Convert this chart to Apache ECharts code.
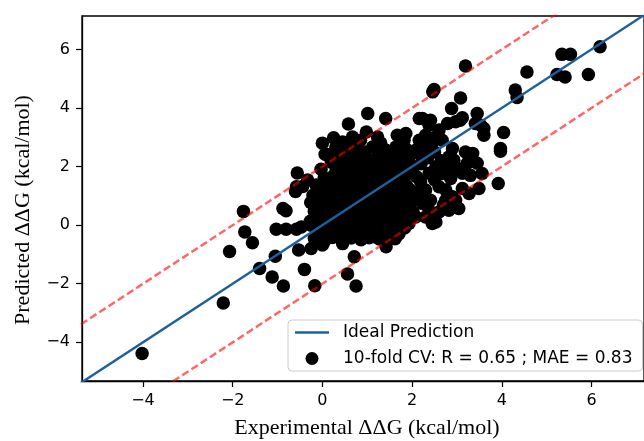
<!DOCTYPE html>
<html>
<head>
<meta charset="utf-8">
<script src="https://cdn.jsdelivr.net/npm/echarts@6/dist/echarts.min.js"></script>
<style>
  html, body { margin: 0; padding: 0; background: #fff; }
  #chart { width: 644px; height: 441px; }
</style>
</head>
<body>
<div id="chart"></div>
<script>
// axis ticks and labels
const tickValues = [-4, -2, 0, 2, 4, 6];
const xLabel = 'Experimental ΔΔG (kcal/mol)';
const yLabel = 'Predicted ΔΔG (kcal/mol)';
const idealName = 'Ideal Prediction';
const cvName = '10-fold CV: R = 0.65 ; MAE = 0.83';

// reference lines: y = x and y = x +/- offset
const lineEnds = [-6, 8];
const bandOffset = 2;

// points, [experimental, predicted]
const outlierPoints = [
  [-4.02, -4.38], [-2.21, -2.66], [-2.07, -0.90], [-1.76, 0.47], [-1.73, -0.23],
  [-1.56, -0.60], [-1.40, -1.48], [-1.12, -1.77], [-1.05, -1.06], [-0.87, -2.08],
  [-1.03, -0.14], [-0.88, 0.57], [-0.81, 0.49], [-0.81, -0.14], [-0.60, 1.15],
  [-0.56, 1.78], [-0.44, 1.32], [-0.58, -0.14], [-0.47, -0.06], [-0.25, 0.0],
  [-0.07, -0.16], [-0.53, -0.85], [-0.40, -1.51], [-0.25, -0.80], [-0.17, -2.07],
  [0.00, -0.68], [0.71, -1.08], [0.56, -1.67], [0.75, -2.08], [0.45, -0.63],
  [1.42, -0.74], [1.67, -0.34], [0.90, -0.40], [1.19, -0.40], [-0.18, -0.45],
  [0.04, -0.57]
];

const upperPoints = [
  [0.00, 2.80], [0.25, 2.98], [0.06, 2.42], [0.45, 2.84], [0.58, 3.45],
  [0.67, 3.01], [1.01, 3.81], [0.98, 3.18], [1.23, 3.01], [1.41, 3.64],
  [0.10, 2.41], [0.38, 2.50], [-0.03, 1.91], [0.30, 1.82], [-0.33, 1.54],
  [-0.58, 1.31], [1.67, 3.07], [1.82, 2.90], [2.16, 3.64], [2.38, 3.47],
  [0.78, 2.56], [1.12, 2.67], [1.42, 2.56], [1.64, 2.67], [2.08, 2.56],
  [1.93, 2.16], [0.12, 2.39], [0.20, 2.15], [-0.14, 0.97], [-0.03, 1.19],
  [0.19, 1.42], [1.86, 2.60], [2.20, 2.10], [0.55, 2.60], [0.95, 2.50],
  [0.30, 2.65], [0.70, 2.75], [1.30, 2.80], [1.50, 2.30], [1.75, 2.40],
  [0.85, 2.90], [0.45, 2.25], [1.25, 2.45]
];

const rightPoints = [
  [3.19, 5.43], [2.49, 4.63], [2.46, 4.55], [3.08, 4.34], [2.88, 3.98],
  [3.12, 3.67], [3.07, 3.58], [3.45, 3.81], [2.79, 3.47], [2.23, 3.64],
  [2.38, 3.41], [3.53, 3.41], [3.60, 3.07], [4.04, 3.16], [4.30, 4.61],
  [4.34, 4.36], [4.56, 5.23], [5.23, 5.14], [5.41, 5.06], [5.34, 5.83],
  [5.53, 5.83], [5.93, 5.14], [6.19, 6.09], [2.53, 3.01], [3.97, 2.62],
  [3.97, 2.52], [3.92, 1.42], [3.49, 1.25], [3.56, 1.76], [3.45, 2.11],
  [3.27, 1.08], [3.12, 1.25], [3.04, 0.57], [2.82, 0.51], [2.60, 0.45],
  [2.49, 0.17], [2.45, 0.06], [3.19, 2.50], [2.90, 2.62], [2.93, 2.22],
  [3.23, 2.11], [2.67, 2.90], [2.45, 2.84], [2.30, 3.07], [2.53, 1.99],
  [2.67, 1.76], [2.60, 1.31], [2.41, 0.85], [2.19, 1.48], [2.23, 0.74],
  [2.86, 1.59], [2.97, 0.85], [2.01, 0.40], [1.93, 2.33], [1.86, 3.13],
  [2.41, 3.58], [2.53, 0.11], [2.38, 0.51], [2.75, 0.85], [2.90, 0.63],
  [2.08, 0.28], [2.08, 0.97], [1.93, 0.06], [1.71, -0.28], [2.16, 2.90],
  [2.00, 1.88], [2.38, 1.77], [3.12, 1.77], [3.30, 1.70], [2.82, 2.33],
  [2.97, 3.53], [3.41, 3.47], [2.16, 2.45], [2.16, 1.14], [2.75, 1.20],
  [2.30, 0.28], [1.86, 0.17], [2.90, 0.97], [1.93, 1.08],
  [2.30, 1.20], [2.50, 1.55], [2.65, 2.20], [2.35, 2.30], [2.80, 1.90],
  [3.00, 1.95], [2.50, 2.50], [2.25, 0.95], [2.70, 0.70], [3.35, 2.45],
  [3.60, 3.30], [2.60, 3.25], [2.10, 1.65], [2.30, 2.70]
];

const corePoints = [
  [0.22, -0.42], [0.43, -0.48], [0.64, -0.44], [0.86, -0.50], [1.04, -0.43], [1.27, -0.47], [1.46, -0.41], [1.62, -0.46],
  [-0.14, -0.12], [0.06, -0.18], [0.27, -0.14], [0.44, -0.20], [0.66, -0.13], [0.84, -0.17], [1.06, -0.11], [1.24, -0.19],
  [1.47, -0.14], [1.66, -0.16], [1.83, -0.10],
  [-0.27, 0.13], [-0.06, 0.18], [0.16, 0.12], [0.34, 0.17], [0.56, 0.11], [0.74, 0.19], [0.96, 0.14], [1.16, 0.10],
  [1.34, 0.18], [1.56, 0.13], [1.74, 0.16], [1.93, 0.20],
  [-0.18, 0.47], [0.03, 0.42], [0.21, 0.49], [0.42, 0.43], [0.61, 0.46], [0.83, 0.41], [1.02, 0.48], [1.22, 0.44],
  [1.43, 0.47], [1.61, 0.42], [1.82, 0.49], [2.02, 0.44],
  [-0.26, 0.77], [-0.04, 0.72], [0.14, 0.78], [0.36, 0.73], [0.54, 0.76], [0.76, 0.71], [0.94, 0.79], [1.14, 0.74],
  [1.36, 0.77], [1.54, 0.72], [1.76, 0.78], [1.96, 0.73],
  [-0.21, 1.02], [0.01, 1.08], [0.19, 1.03], [0.41, 1.07], [0.62, 1.01], [0.81, 1.06], [1.03, 1.04], [1.21, 1.09],
  [1.42, 1.02], [1.63, 1.07], [1.81, 1.03], [2.01, 1.08],
  [-0.14, 1.37], [0.07, 1.32], [0.26, 1.38], [0.46, 1.33], [0.67, 1.36], [0.86, 1.31], [1.07, 1.39], [1.26, 1.34],
  [1.47, 1.37], [1.66, 1.32], [1.87, 1.36],
  [0.04, 1.62], [0.24, 1.67], [0.44, 1.63], [0.63, 1.68], [0.84, 1.61], [1.04, 1.66], [1.23, 1.64], [1.44, 1.69],
  [1.64, 1.62], [1.84, 1.67],
  [0.31, 1.97], [0.52, 1.92], [0.71, 1.98], [0.92, 1.93], [1.12, 1.96], [1.33, 1.91], [1.52, 1.97], [1.71, 1.94],
  [0.57, 2.27], [0.78, 2.22], [0.98, 2.28], [1.18, 2.23], [1.39, 2.26], [1.58, 2.21]
];

// more points packed between the core rows
const coreFillPoints = [
  [0.33, -0.31], [0.74, -0.29], [1.15, -0.33], [1.55, -0.28], [0.53, -0.32], [0.95, -0.27], [1.36, -0.31],
  [-0.05, 0.02], [0.36, -0.01], [0.75, 0.03], [1.15, -0.02], [1.55, 0.01], [0.15, -0.02], [0.55, 0.02], [0.95, -0.01], [1.35, 0.03], [1.75, 0.0],
  [-0.1, 0.31], [0.31, 0.28], [0.72, 0.33], [1.12, 0.29], [1.52, 0.32], [1.9, 0.3], [0.1, 0.32], [0.52, 0.29], [0.93, 0.31], [1.33, 0.28], [1.72, 0.31],
  [-0.12, 0.61], [0.29, 0.59], [0.7, 0.62], [1.11, 0.58], [1.51, 0.63], [1.88, 0.6], [0.09, 0.6], [0.5, 0.61], [0.9, 0.58], [1.31, 0.62], [1.71, 0.59],
  [-0.1, 0.9], [0.3, 0.92], [0.71, 0.89], [1.12, 0.91], [1.52, 0.88], [1.92, 0.92], [0.1, 0.89], [0.51, 0.92], [0.91, 0.9], [1.32, 0.88], [1.72, 0.91],
  [-0.03, 1.21], [0.37, 1.19], [0.77, 1.22], [1.17, 1.2], [1.57, 1.18], [1.95, 1.22], [0.17, 1.2], [0.57, 1.18], [0.97, 1.21], [1.37, 1.19], [1.77, 1.21],
  [0.14, 1.5], [0.54, 1.52], [0.94, 1.49], [1.34, 1.51], [1.74, 1.48], [0.34, 1.49], [0.74, 1.51], [1.14, 1.5], [1.54, 1.52],
  [0.41, 1.8], [0.81, 1.78], [1.21, 1.81], [1.61, 1.79], [0.61, 1.81], [1.01, 1.79], [1.41, 1.8], [1.78, 1.82],
  [0.67, 2.1], [1.07, 2.11], [1.47, 2.09], [0.87, 2.09], [1.27, 2.12], [1.65, 2.08]
];

const allPoints = outlierPoints.concat(upperPoints, rightPoints, corePoints, coreFillPoints);

function minusFmt(v) {
  return v < 0 ? '\u2212' + Math.abs(v) : String(v);
}

const tickFont = { fontFamily: 'DejaVu Sans', fontSize: 16, color: '#000' };
const blue = '#1d609e';

const chart = echarts.init(document.getElementById('chart'));

chart.setOption({
  animation: false,
  backgroundColor: '#fff',
  grid: {
    left: 82, top: 16, right: -2, bottom: 60,
    show: true, borderColor: '#000', borderWidth: 1.3
  },
  xAxis: {
    type: 'value', min: -5.36, max: 7.17,
    axisLine: { show: true, onZero: false, lineStyle: { color: '#000', width: 1.3 } },
    axisTick: { show: true, length: 6, customValues: tickValues, lineStyle: { color: '#000', width: 1.2 } },
    axisLabel: { customValues: tickValues, formatter: minusFmt, margin: 12, ...tickFont },
    splitLine: { show: false }
  },
  yAxis: {
    type: 'value', min: -5.32, max: 7.14,
    axisLine: { show: true, onZero: false, lineStyle: { color: '#000', width: 1.3 } },
    axisTick: { show: true, length: 6, customValues: tickValues, lineStyle: { color: '#000', width: 1.2 } },
    axisLabel: { customValues: tickValues, formatter: minusFmt, margin: 12, ...tickFont },
    splitLine: { show: false }
  },
  legend: {
    left: 288, top: 320,
    orient: 'vertical',
    padding: [4, 10, 4, 7],
    itemGap: 9,
    itemWidth: 34, itemHeight: 13,
    borderColor: '#cccccc', borderWidth: 1, borderRadius: 4,
    backgroundColor: 'rgba(255,255,255,0.85)',
    textStyle: { fontFamily: 'DejaVu Sans', fontSize: 17, color: '#000', padding: [0, 0, 0, 9] },
    data: [
      { name: idealName, icon: 'path://M0 0 H34 V2.3 H0 Z', itemStyle: { color: blue } },
      { name: cvName, icon: 'circle', itemStyle: { color: '#000', opacity: 1 } }
    ]
  },
  graphic: [
    {
      type: 'text', x: 367, y: 428,
      style: {
        text: xLabel, fontFamily: 'Liberation Serif', fontSize: 22, fill: '#000',
        align: 'center', verticalAlign: 'middle'
      }
    },
    {
      type: 'text', x: 23, y: 210, rotation: Math.PI / 2,
      style: {
        text: yLabel, fontFamily: 'Liberation Serif', fontSize: 22, fill: '#000',
        align: 'center', verticalAlign: 'middle'
      }
    }
  ],
  series: [
    {
      name: cvName,
      type: 'scatter',
      symbolSize: 13.5,
      itemStyle: { color: '#000', opacity: 1 },
      data: allPoints,
      z: 2
    },
    {
      name: idealName,
      type: 'line',
      symbol: 'none',
      itemStyle: { color: blue },
      lineStyle: { color: blue, width: 2.4 },
      data: lineEnds.map(v => [v, v]),
      z: 4
    },
    {
      name: 'upper band',
      type: 'line',
      symbol: 'none',
      lineStyle: { color: 'rgba(255,0,0,0.6)', width: 2.5, type: [7.5, 3.5] },
      data: lineEnds.map(v => [v, v + bandOffset]),
      z: 3
    },
    {
      name: 'lower band',
      type: 'line',
      symbol: 'none',
      lineStyle: { color: 'rgba(255,0,0,0.6)', width: 2.5, type: [7.5, 3.5] },
      data: lineEnds.map(v => [v, v - bandOffset]),
      z: 3
    }
  ]
});
</script>
</body>
</html>
